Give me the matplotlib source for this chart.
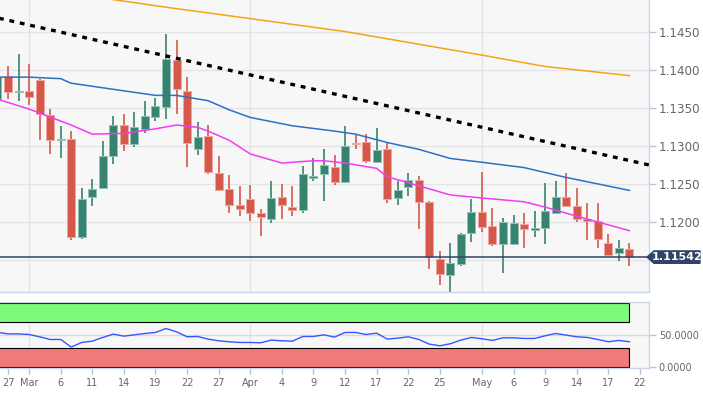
import matplotlib
matplotlib.use("Agg")
import matplotlib.pyplot as plt
import matplotlib.transforms as mtransforms
from matplotlib.patches import Rectangle, Polygon
import numpy as np
import pandas as pd

# ---------------- data ----------------
start_date = "2019-02-26"
end_date = "2019-05-21"

opens = [1.13627, 1.13921, 1.13711, 1.13732, 1.13868, 1.13417, 1.13079, 1.13101, 1.11807, 1.12333,
         1.12456, 1.12873, 1.13285, 1.13035, 1.13224, 1.13386, 1.13518, 1.14132, 1.13728, 1.12961,
         1.13132, 1.12653, 1.12443, 1.12224, 1.12303, 1.12123, 1.12039, 1.12333, 1.12206, 1.12167,
         1.12588, 1.12632, 1.12728, 1.12535, 1.13048, 1.13057, 1.12798, 1.12969, 1.12320, 1.12461,
         1.12561, 1.12263, 1.11522, 1.11311, 1.11452, 1.11860, 1.12140, 1.11956, 1.11711, 1.11711,
         1.11974, 1.11903, 1.11930, 1.12127, 1.12338, 1.12219, 1.12039, 1.12013, 1.11732, 1.11601,
         1.11653]
highs = [1.13970, 1.14053, 1.14219, 1.14088, 1.13890, 1.13487, 1.13263, 1.13202, 1.12456, 1.12575,
         1.13075, 1.13395, 1.13430, 1.13452, 1.13601, 1.13636, 1.14482, 1.14395, 1.13912, 1.13320,
         1.13276, 1.12868, 1.12618, 1.12474, 1.12496, 1.12175, 1.12544, 1.12500, 1.12482, 1.12746,
         1.12851, 1.12969, 1.12882, 1.13263, 1.13145, 1.13158, 1.13246, 1.13048, 1.12548, 1.12645,
         1.12614, 1.12285, 1.11627, 1.11732, 1.11864, 1.12303, 1.12658, 1.12193, 1.12061, 1.12101,
         1.12123, 1.12145, 1.12513, 1.12539, 1.12645, 1.12447, 1.12250, 1.12250, 1.11851, 1.11763,
         1.11732]
lows = [1.13600, 1.13618, 1.13592, 1.13539, 1.13088, 1.12895, 1.12851, 1.11763, 1.11785, 1.12210,
        1.12443, 1.12772, 1.12943, 1.12991, 1.13175, 1.13333, 1.13355, 1.13430, 1.12728, 1.12890,
        1.12632, 1.12412, 1.12127, 1.12083, 1.12018, 1.11825, 1.11996, 1.12048, 1.12088, 1.12127,
        1.12548, 1.12285, 1.12496, 1.12518, 1.12969, 1.12781, 1.12785, 1.12254, 1.12232, 1.12351,
        1.11917, 1.11386, 1.11171, 1.11083, 1.11425, 1.11746, 1.11868, 1.11689, 1.11338, 1.11706,
        1.11658, 1.11807, 1.11719, 1.12120, 1.12202, 1.12004, 1.11772, 1.11658, 1.11544, 1.11496,
        1.11430]
closes = [1.13912, 1.13715, 1.13728, 1.13649, 1.13425, 1.13079, 1.13101, 1.11807, 1.12311, 1.12439,
          1.12868, 1.13276, 1.13035, 1.13250, 1.13404, 1.13526, 1.14145, 1.13750, 1.13048, 1.13123,
          1.12662, 1.12430, 1.12224, 1.12180, 1.12123, 1.12070, 1.12316, 1.12224, 1.12167, 1.12640,
          1.12610, 1.12750, 1.12526, 1.13000, 1.13031, 1.12803, 1.12952, 1.12303, 1.12425, 1.12561,
          1.12272, 1.11548, 1.11325, 1.11469, 1.11842, 1.12136, 1.11939, 1.11715, 1.12004, 1.11987,
          1.11908, 1.11921, 1.12145, 1.12338, 1.12211, 1.12048, 1.12022, 1.11781, 1.11575, 1.11667,
          1.11542]

rsi = [54.5, 52, 52, 51, 47.4, 43.2, 43.2, 31.3, 38.5, 40.6,
       46.4, 51.6, 48.4, 50.5, 52.6, 54.2, 60.4, 55.2, 47.4, 47.9,
       43.8, 41.1, 39.6, 38.5, 38.5, 38, 42.2, 41.1, 40.6, 47.9,
       47.9, 50.5, 46.9, 54.2, 54.2, 51, 53.1, 43.8, 45.3, 47.4,
       43.2, 35.9, 33.3, 36.5, 42.2, 46.4, 44.3, 41.7, 45.8, 45.8,
       44.8, 44.8, 49, 52.6, 50, 47.4, 46.4, 43.2, 39.6, 41.7,
       39.6]

# moving averages read at selected candle positions (position = trading-day index from Feb 26)
ma_blue_pos = [0, 3, 6, 7, 10, 13, 15, 17, 20, 22, 24, 28, 32, 34, 37, 40, 43, 46, 50, 54, 60]
ma_blue_val = [1.1391, 1.1391, 1.1389, 1.1383, 1.1377, 1.1371, 1.1367, 1.1367, 1.1360, 1.1348,
               1.1338, 1.1327, 1.1320, 1.1316, 1.1305, 1.1296, 1.1284, 1.1279, 1.1272, 1.1259, 1.1242]
ma_mag_pos = [0, 3, 7, 9, 12, 15, 17, 19, 20, 22, 24, 27, 30, 31, 33, 36, 37, 40, 43, 46, 50, 52, 55, 60]
ma_mag_val = [1.1362, 1.1349, 1.1328, 1.1316, 1.1317, 1.1323, 1.1328, 1.1325, 1.1320, 1.1308,
              1.1290, 1.1278, 1.1281, 1.1281, 1.1278, 1.1271, 1.1260, 1.1248, 1.1236, 1.1232,
              1.1227, 1.1220, 1.1208, 1.1189]
ma_orange_pos = [0, 11, 16, 24, 33, 46, 52, 60]
ma_orange_val = [1.1515, 1.1493, 1.1483, 1.1468, 1.1451, 1.1420, 1.1405, 1.1393]

trend_pos = [0, 62]
trend_val = [1.1469, 1.1275]

current_price = 1.11542

price_ticks = [1.1200, 1.1250, 1.1300, 1.1350, 1.1400, 1.1450]
price_grid = [1.1150, 1.1200, 1.1250, 1.1300, 1.1350, 1.1400, 1.1450]

tick_dates = ["2019-02-27", "2019-03-01", "2019-03-06", "2019-03-11", "2019-03-14", "2019-03-19",
              "2019-03-22", "2019-03-27", "2019-04-01", "2019-04-04", "2019-04-09", "2019-04-12",
              "2019-04-17", "2019-04-22", "2019-04-25", "2019-05-01", "2019-05-06", "2019-05-09",
              "2019-05-14", "2019-05-17", "2019-05-22"]
tick_labels = ["27", "Mar", "6", "11", "14", "19", "22", "27", "Apr", "4", "9", "12",
               "17", "22", "25", "May", "6", "9", "14", "17", "22"]
month_starts = ["2019-03-01", "2019-04-01", "2019-05-01"]

# ---------------- layout ----------------
all_days = pd.bdate_range(start_date, "2019-05-24")
pos_of = {d.strftime("%Y-%m-%d"): i for i, d in enumerate(all_days)}
n = len(opens)
xs = np.arange(n)

RED = "#d5594b"
RED_EDGE = "#eea59d"
GREEN = "#38836f"
GREEN_EDGE = "#8fc3b5"
FRAME = "#ccd6eb"
GRID = "#e4e4e4"
LABEL = "#666666"
NAVY = "#2f4468"

W, H = 703, 393
fig = plt.figure(figsize=(W / 100, H / 100), dpi=100, facecolor="white")
ax = fig.add_axes([0, 1 - 292 / H, 649 / W, 292 / H])
ax2 = fig.add_axes([0, 1 - 368 / H, 649 / W, (368 - 301.7) / H])

xlim = (0.24, 61.86)
for a in (ax, ax2):
    a.set_facecolor("#f7f7f7")
    a.set_xlim(*xlim)
    for s in ("left",):
        a.spines[s].set_visible(False)
    for s in ("right", "bottom", "top"):
        a.spines[s].set_color(FRAME)
        a.spines[s].set_linewidth(1.0)
ax.spines["top"].set_visible(False)

ax.set_ylim(1.11083, 1.14925)

# grid
for g in price_grid:
    ax.axhline(g, color=GRID, lw=1.0, zorder=0)
for m in month_starts:
    ax.axvline(pos_of[m], color=GRID, lw=1.0, zorder=0)
    ax2.axvline(pos_of[m], color=GRID, lw=1.0, zorder=0)

# candles
for i in range(n):
    o, h, l, c = opens[i], highs[i], lows[i], closes[i]
    up = c >= o
    col = GREEN if up else RED
    ecol = GREEN_EDGE if up else RED_EDGE
    ax.vlines(xs[i], l, h, color=col, lw=1.2, zorder=2)
    bot = min(o, c)
    ht = max(abs(c - o), 0.00008)
    ax.bar(xs[i], ht, bottom=bot - (ht - abs(c - o)) / 2, width=0.76, color=col,
           edgecolor=ecol, linewidth=0.7, zorder=3)

# moving averages and trend line
ax.plot(ma_orange_pos, ma_orange_val, color="#f7a21b", lw=1.1, zorder=4)
ax.plot(ma_blue_pos, ma_blue_val, color="#2f6fc4", lw=1.1, zorder=4)
ax.plot(ma_mag_pos, ma_mag_val, color="#f23cf2", lw=1.1, zorder=4)
ax.plot(trend_pos, trend_val, color="black", lw=2.4, linestyle=(0, (1.45, 1.75)), zorder=5)

# current price line
ax.axhline(current_price, color=NAVY, lw=1.1, zorder=6)

# right axis
ax.yaxis.tick_right()
ax.set_yticks(price_ticks)
ax.set_yticklabels([f"{v:.4f}" for v in price_ticks])
ax.tick_params(axis="y", direction="out", length=5, width=1, color="#b8c2d6",
               labelsize=8.6, labelcolor=LABEL, pad=2)
ax.set_xticks([])

# price label box
trans = mtransforms.blended_transform_factory(ax.transAxes, ax.transData)
hh = 6.2 * (0.03842 / 292)
tip = 647 / 649
rl = 654 / 649
rr = 700 / 649
poly = Polygon([(tip, current_price), (rl, current_price + hh), (rr, current_price + hh),
                (rr, current_price - hh), (rl, current_price - hh)], closed=True,
               transform=trans, facecolor=NAVY, edgecolor=NAVY, clip_on=False, zorder=10)
ax.add_patch(poly)
ax.text((rl + rr) / 2, current_price, f"{current_price:.5f}", transform=trans, ha="center",
        va="center", color="white", fontsize=8, fontweight="bold", clip_on=False, zorder=11)

# lower panel
ax2.set_ylim(-1.6, 102.5)
ax2.axhline(50, color="#dadada", lw=1.0, zorder=0)
last = n - 1
ax2.add_patch(Rectangle((-2, 70), last + 2, 30, facecolor="#7cfa7c", edgecolor="black",
                        linewidth=0.8, zorder=1))
ax2.add_patch(Rectangle((-2, 0), last + 2, 30, facecolor="#f07a7a", edgecolor="black",
                        linewidth=0.8, zorder=1))
ax2.plot(xs, rsi, color="#3a55ff", lw=1.0, zorder=3)
ax2.yaxis.tick_right()
ax2.set_yticks([0, 50])
ax2.set_yticklabels(["0.0000", "50.0000"])
ax2.tick_params(axis="y", direction="out", length=5, width=1, color="#b8c2d6",
                labelsize=7, labelcolor=LABEL, pad=2)
ax2.set_xticks([pos_of[d] for d in tick_dates])
ax2.set_xticklabels(tick_labels)
ax2.tick_params(axis="x", direction="out", length=4, width=1, color="#b8c2d6",
                labelsize=7, labelcolor=LABEL, pad=3)

fig.savefig("out.png", dpi=100, facecolor="white")
